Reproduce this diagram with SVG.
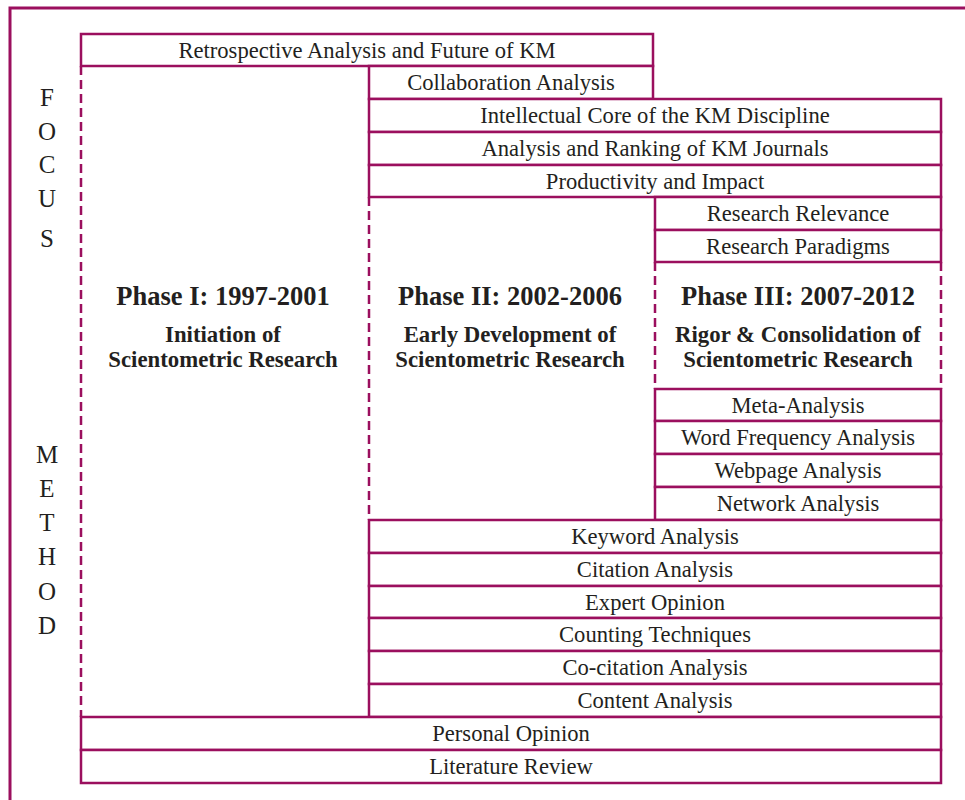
<svg xmlns="http://www.w3.org/2000/svg" width="965" height="800" viewBox="0 0 965 800">
<style>
.b{fill:#fff;stroke:#9b0f5e;stroke-width:2.5}
.d{fill:none;stroke:#9b0f5e;stroke-width:2.5;stroke-dasharray:9 5}
.t{font-family:"Liberation Serif",serif;font-size:22.6px;fill:#231f20;text-anchor:middle}
.h{font-family:"Liberation Serif",serif;font-size:26.5px;font-weight:bold;fill:#231f20;text-anchor:middle}
.s{font-family:"Liberation Serif",serif;font-size:22.8px;font-weight:bold;fill:#231f20;text-anchor:middle}
.l{font-family:"Liberation Serif",serif;font-size:25px;fill:#231f20;text-anchor:middle}
</style>
<rect x="0" y="0" width="965" height="800" fill="#fff"/>
<path d="M10,800 V8 H965" fill="none" stroke="#9b0f5e" stroke-width="3"/>
<g id="connectors">
<path class="d" d="M81,66 V717"/>
<path class="d" d="M369,197 V520"/>
<path class="d" d="M655,262 V389"/>
<path class="d" d="M941,262 V389"/>
</g>
<g id="focus">
<g id="n-retro"><rect class="b" x="81" y="34" width="572" height="32"/><text class="t" x="367" y="58">Retrospective Analysis and Future of KM</text></g>
<g id="n-collab"><rect class="b" x="369" y="66" width="284" height="33"/><text class="t" x="511" y="90">Collaboration Analysis</text></g>
<g id="n-core"><rect class="b" x="369" y="99" width="572" height="33"/><text class="t" x="655" y="123">Intellectual Core of the KM Discipline</text></g>
<g id="n-rank"><rect class="b" x="369" y="132" width="572" height="33"/><text class="t" x="655" y="156">Analysis and Ranking of KM Journals</text></g>
<g id="n-prod"><rect class="b" x="369" y="165" width="572" height="32"/><text class="t" x="655" y="189">Productivity and Impact</text></g>
<g id="n-relev"><rect class="b" x="655" y="197" width="286" height="33"/><text class="t" x="798" y="221">Research Relevance</text></g>
<g id="n-parad"><rect class="b" x="655" y="230" width="286" height="32"/><text class="t" x="798" y="254">Research Paradigms</text></g>
</g>
<g id="method">
<g id="n-meta"><rect class="b" x="655" y="389" width="286" height="32"/><text class="t" x="798" y="413">Meta-Analysis</text></g>
<g id="n-word"><rect class="b" x="655" y="421" width="286" height="33"/><text class="t" x="798" y="445">Word Frequency Analysis</text></g>
<g id="n-web"><rect class="b" x="655" y="454" width="286" height="33"/><text class="t" x="798" y="478">Webpage Analysis</text></g>
<g id="n-net"><rect class="b" x="655" y="487" width="286" height="33"/><text class="t" x="798" y="511">Network Analysis</text></g>
<g id="n-key"><rect class="b" x="369" y="520" width="572" height="33"/><text class="t" x="655" y="544">Keyword Analysis</text></g>
<g id="n-cit"><rect class="b" x="369" y="553" width="572" height="33"/><text class="t" x="655" y="577">Citation Analysis</text></g>
<g id="n-exp"><rect class="b" x="369" y="586" width="572" height="32"/><text class="t" x="655" y="610">Expert Opinion</text></g>
<g id="n-count"><rect class="b" x="369" y="618" width="572" height="33"/><text class="t" x="655" y="642">Counting Techniques</text></g>
<g id="n-cocit"><rect class="b" x="369" y="651" width="572" height="33"/><text class="t" x="655" y="675">Co-citation Analysis</text></g>
<g id="n-content"><rect class="b" x="369" y="684" width="572" height="33"/><text class="t" x="655" y="708">Content Analysis</text></g>
<g id="n-pers"><rect class="b" x="81" y="717" width="860" height="33"/><text class="t" x="511" y="741">Personal Opinion</text></g>
<g id="n-lit"><rect class="b" x="81" y="750" width="860" height="33"/><text class="t" x="511" y="774">Literature Review</text></g>
</g>
<g id="phase1"><text class="h" x="223" y="305">Phase I: 1997-2001</text><text class="s" x="223" y="342">Initiation of</text><text class="s" x="223" y="367">Scientometric Research</text></g>
<g id="phase2"><text class="h" x="510" y="305">Phase II: 2002-2006</text><text class="s" x="510" y="342">Early Development of</text><text class="s" x="510" y="367">Scientometric Research</text></g>
<g id="phase3"><text class="h" x="798" y="305">Phase III: 2007-2012</text><text class="s" x="798" y="342">Rigor &amp; Consolidation of</text><text class="s" x="798" y="367">Scientometric Research</text></g>
<g id="axis-focus">
<text class="l" x="47" y="106">F</text><text class="l" x="47" y="140">O</text><text class="l" x="47" y="173">C</text><text class="l" x="47" y="207">U</text><text class="l" x="47" y="247">S</text>
</g>
<g id="axis-method">
<text class="l" x="47" y="463">M</text><text class="l" x="47" y="497">E</text><text class="l" x="47" y="531">T</text><text class="l" x="47" y="565">H</text><text class="l" x="47" y="600">O</text><text class="l" x="47" y="634">D</text>
</g>
</svg>
